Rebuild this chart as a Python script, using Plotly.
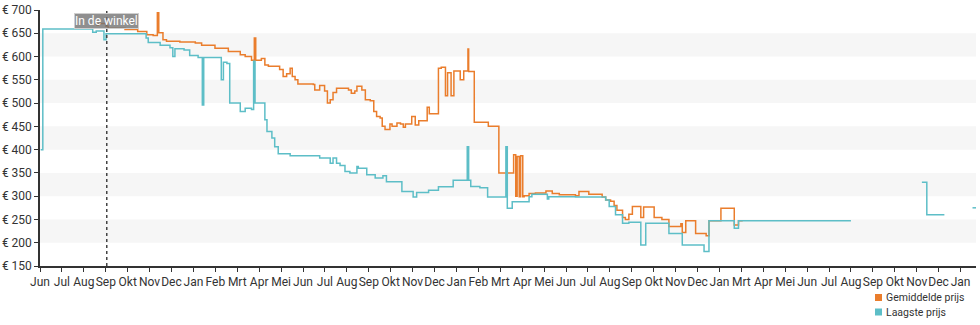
import pandas as pd
import plotly.graph_objects as go

# Price history: day offsets from the first observation and the price (EUR) in effect from that day
start_date = "2019-06-01"

avg_days = [80, 83, 94, 97, 121, 139, 152, 161, 167, 169,
            175, 180, 199, 221, 230, 249, 268, 285, 292, 301,
            305, 307, 315, 320, 325, 341, 346, 351, 356, 359,
            363, 367, 389, 391, 398, 405, 409, 413, 417, 422,
            439, 443, 448, 451, 458, 463, 470, 475, 479, 484,
            487, 491, 498, 501, 508, 513, 517, 520, 529, 534,
            539, 551, 554, 567, 571, 577, 580, 585, 589, 598,
            603, 609, 610, 618, 638, 653, 674, 677, 679, 682,
            684, 687, 689, 696, 705, 720, 729, 739, 762, 767,
            781, 800, 805, 812, 817, 821, 829, 833, 838, 843,
            855, 859, 874, 885, 895, 912, 914, 919, 933, 948,
            952, 969, 988, 994, 1000]
avg_prices = [667, 671, 665, 661, 658, 654, 647, 645, 694, 651,
              636, 633, 631, 629, 624, 618, 611, 604, 600, 592,
              640, 592, 596, 582, 579, 572, 557, 563, 575, 557,
              550, 541, 540, 528, 538, 526, 500, 507, 523, 532,
              528, 521, 526, 536, 528, 507, 505, 482, 471, 468,
              450, 443, 455, 450, 457, 455, 448, 455, 471, 453,
              462, 491, 477, 575, 577, 516, 565, 516, 569, 550,
              569, 616, 568, 459, 450, 350, 389, 300, 385, 299,
              387, 299, 301, 306, 307, 311, 306, 303, 301, 310,
              304, 298, 292, 289, 280, 270, 254, 250, 261, 278,
              254, 277, 254, 250, 235, 241, 222, 247, 220, 215,
              247, 274, 238, 247, 247]

low_days = [1, 4, 75, 80, 91, 94,
            151, 154, 171, 185, 189, 192, 205, 213, 225,
            231, 233, 258, 261, 266, 270, 285, 292, 301, 304, 306,
            320, 323, 330, 334, 339, 356, 398, 413, 417, 422, 427, 434, 441, 451, 453, 465,
            477, 488, 493, 515, 531, 536, 553, 567, 588, 608, 610, 613, 626, 637,
            663, 665, 672, 696, 700, 722, 724, 762, 805, 810, 819, 829, 838, 855, 862,
            895, 914, 945, 952, 988, 994, 1154, 1155, 1255, 1262, 1287, 1288, 1327, 1332]
low_prices = [400, 659, 652, 655, 636, 649,
              640, 630, 624, 619, 600, 617, 614, 602, 598,
              496, 598, 550, 588, 585, 500, 482, 489, 486, 590, 500,
              464, 439, 425, 406, 391, 387, 382, 371, 382, 371, 366, 353, 350, 364, 360, 346,
              339, 344, 331, 310, 298, 308, 313, 320, 334, 406, 334, 321, 318, 298,
              406, 274, 288, 299, 304, 294, 299, 298, 292, 278, 260, 242, 244, 195, 242,
              220, 195, 181, 247, 231, 247, 247, None, 330, 260, 260, None, 275, 275]

in_store_day = 95
month_labels = ["Jun", "Jul", "Aug", "Sep", "Okt", "Nov", "Dec",
                "Jan", "Feb", "Mrt", "Apr", "Mei", "Jun", "Jul", "Aug", "Sep", "Okt", "Nov", "Dec",
                "Jan", "Feb", "Mrt", "Apr", "Mei", "Jun", "Jul", "Aug", "Sep", "Okt", "Nov", "Dec",
                "Jan", "Mrt", "Apr", "Mei", "Jun", "Jul", "Aug", "Sep", "Okt", "Nov", "Dec",
                "Jan"]
price_ticks = list(range(150, 701, 50))
price_labels = [f"€ {p}" for p in price_ticks]
band_lows = [200, 300, 400, 500, 600]

ORANGE = "#ea7d2c"
TEAL = "#5dbec7"
TEXT = "#333333"
FONT = "Roboto"

t0 = pd.Timestamp(start_date)
to_date = lambda days: [t0 + pd.Timedelta(days=d) for d in days]

fig = go.Figure()
fig.add_trace(go.Scatter(x=to_date(avg_days), y=avg_prices, mode="lines",
                         line=dict(color=ORANGE, width=1.5, shape="hv"),
                         name="Gemiddelde prijs", showlegend=False))
fig.add_trace(go.Scatter(x=to_date(low_days), y=low_prices, mode="lines",
                         line=dict(color=TEAL, width=1.5, shape="hv"),
                         name="Laagste prijs", showlegend=False, connectgaps=False))

# alternating light bands
for lo in band_lows:
    fig.add_shape(type="rect", xref="paper", x0=0, x1=1, yref="y", y0=lo, y1=lo + 50,
                  fillcolor="#f6f6f6", line_width=0, layer="below")

# in-store marker
store_x = t0 + pd.Timedelta(days=in_store_day)
fig.add_shape(type="line", x0=store_x, x1=store_x, yref="paper", y0=0, y1=1,
              line=dict(color="#444444", width=1.5, dash="dot"))
fig.add_annotation(x=store_x, xref="x", y=0.957, yref="paper", yanchor="middle",
                   text="In de winkel", showarrow=False,
                   font=dict(family=FONT, size=12, color="white"),
                   bgcolor="rgba(115,115,115,0.8)", bordercolor="#cfcfcf",
                   borderwidth=1, borderpad=0)

# legend drawn below the plot, bottom right
W, H, L, T = 936, 256, 40, 10
def px(x, y):
    return (x - L) / W, (T + H - y) / H

for (label, color, cy) in [("Gemiddelde prijs", ORANGE, 297.5), ("Laagste prijs", TEAL, 312)]:
    x0, y0 = px(875, cy + 3.5)
    x1, y1 = px(882, cy - 3.5)
    fig.add_shape(type="rect", xref="paper", yref="paper", x0=x0, x1=x1, y0=y0, y1=y1,
                  fillcolor=color, line_width=0)
    tx, ty = px(883.5, cy)
    fig.add_annotation(x=tx, y=ty, xref="paper", yref="paper", xanchor="left", yanchor="middle",
                       text=label, showarrow=False,
                       font=dict(family=FONT, size=10.5, color=TEXT))

tick_dates = pd.date_range(start_date, "2023-01-01", periods=len(month_labels))

fig.update_layout(
    width=980, height=325,
    margin=dict(l=L, r=980 - L - W, t=T, b=325 - T - H, autoexpand=False),
    plot_bgcolor="white", paper_bgcolor="white",
    font=dict(family=FONT, size=12, color=TEXT),
    showlegend=False,
    xaxis=dict(type="date", range=[t0, t0 + pd.Timedelta(days=1332)],
               tickvals=tick_dates, ticktext=month_labels, tickangle=0,
               ticks="outside", ticklen=4, tickwidth=1, tickcolor="#333333",
               showline=True, linecolor="#333333", linewidth=1.5,
               showgrid=False, zeroline=False,
               tickfont=dict(family=FONT, size=12, color=TEXT)),
    yaxis=dict(range=[150, 700], tickvals=price_ticks, ticktext=price_labels,
               ticks="outside", ticklen=4, tickwidth=1, tickcolor="#333333",
               showline=True, linecolor="#333333", linewidth=1.5,
               showgrid=False, zeroline=False,
               tickfont=dict(family=FONT, size=12, color=TEXT)),
)

fig.write_html("out.html")
